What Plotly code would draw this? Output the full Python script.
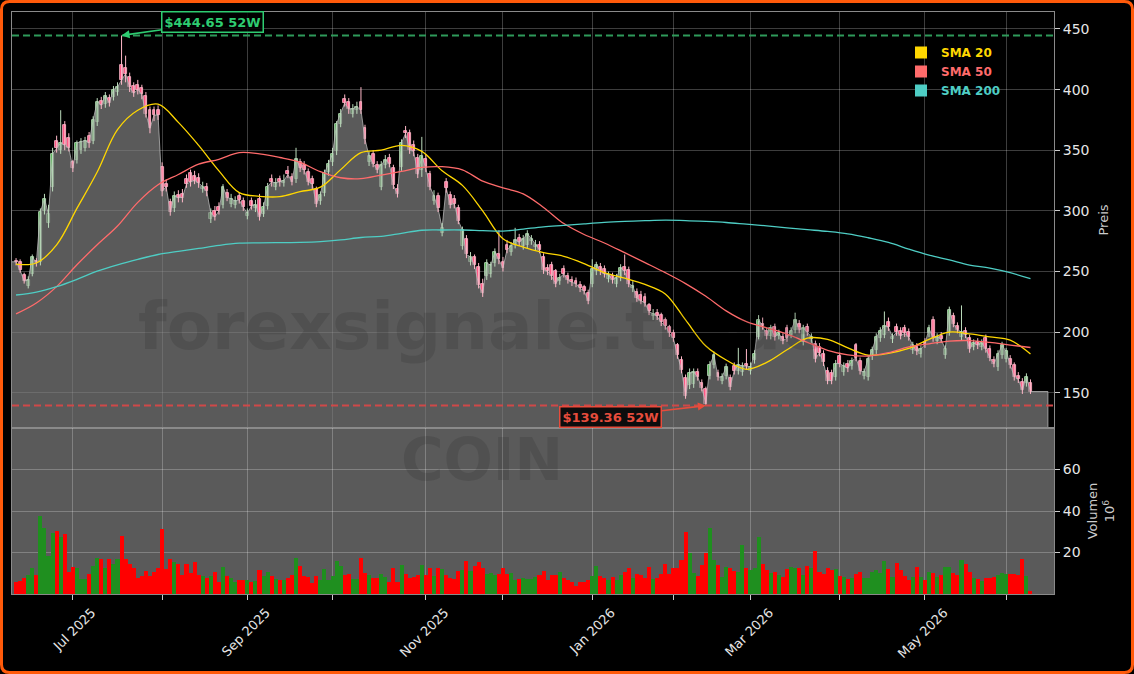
import pandas as pd
import plotly.graph_objects as go

# ---------------- data ----------------
TICKER = "COIN"
START, END = "2025-06-10", "2026-06-09"
HOLIDAYS = ["2025-06-19", "2025-07-04", "2025-09-01", "2025-11-27", "2025-12-25",
            "2026-01-01", "2026-01-19", "2026-02-16", "2026-04-03", "2026-05-25"]

opens = [259,258,247,238,248,259,258,300,290,320,358,350,371,360,340,342,350,352,362,358,
         373,391,388,393,394,398,420,418,410,403,404,401,395,383,383,383,336,322,307,302,
         313,314,326,331,329,327,318,320,293,300,303,305,315,306,305,312,308,296,308,302,
         310,297,304,326,320,326,323,333,328,326,340,338,332,326,318,308,315,332,340,349,
         372,392,390,380,383,390,368,340,347,338,320,338,344,335,318,336,366,364,354,344,
         334,343,330,308,312,282,324,313,310,302,271,277,258,262,254,240,246,248,257,264,
         258,272,266,272,278,271,272,275,270,272,262,253,255,250,242,252,246,243,242,239,
         237,232,240,250,254,252,244,246,240,245,254,251,236,233,231,229,222,213,216,214,
         210,204,199,189,177,162,156,157,167,158,153,164,173,166,160,164,162,172,168,167,
         174,168,177,196,207,201,197,204,197,196,203,198,202,207,192,204,194,190,188,182,
         168,166,163,180,167,174,172,189,176,164,163,180,185,195,198,208,194,204,201,203,
         200,185,188,182,192,199,210,193,197,181,200,213,205,196,201,195,188,192,188,195,
         186,177,171,181,178,178,173,164,159,158,158]
highs = [261,260,249,246,264,261,302,314,305,352,362,383,374,364,342,358,360,361,365,378,
         393,394,398,396,403,406,444.65,428,414,406,408,404,398,386,386,387,340,326,310,316,
         317,318,330,334,333,331,324,323,302,304,307,322,318,314,312,315,311,302,311,309,
         314,307,323,330,327,329,330,337,331,352,343,341,335,329,320,316,334,342,352,374,
         384,396,393,388,390,402,371,349,350,341,341,346,347,338,322,359,370,367,358,347,
         361,347,333,317,315,290,327,316,313,305,287,280,266,264,257,244,260,258,269,284,
         262,276,274,286,281,280,284,280,276,275,265,256,258,252,248,255,249,246,245,242,
         239,235,260,258,257,255,250,249,248,256,264,254,242,236,234,232,224,219,219,216,
         212,206,202,191,180,165,170,170,170,161,155,176,184,169,166,174,165,175,187,175,
         186,175,185,214,212,204,206,207,202,199,206,204,216,210,206,207,199,193,191,185,
         171,169,177,183,175,177,179,191,179,170,181,188,199,204,217,212,199,207,204,206,
         203,192,191,189,195,206,213,199,200,189,221,216,208,222,204,198,194,195,194,198,
         189,180,185,192,187,181,175,167,162,166,161]
lows = [255,249,240,236,246,254,255,297,286,316,348,347,350,349,332,339,347,349,352,355,
        370,384,385,386,391,395,404,406,398,394,396,392,377,364,374,375,312,316,296,299,
        307,307,319,320,322,319,315,312,290,292,297,302,308,303,302,306,300,293,301,299,
        292,295,301,320,317,320,320,327,321,323,332,330,321,318,303,305,312,329,337,346,
        369,386,380,377,380,380,355,337,336,331,317,335,336,318,311,333,360,347,345,327,
        328,332,317,305,299,279,315,302,302,289,268,261,255,252,236,229,243,245,254,256,
        250,265,263,269,271,268,269,272,267,265,248,247,243,237,239,245,240,238,237,233,
        231,223,237,247,247,245,241,240,237,242,247,237,233,225,223,221,214,210,210,205,
        202,196,192,178,166,145,153,154,160,151,139.36,161,170,160,157,161,152,165,165,164,
        169,165,174,194,202,194,194,193,194,190,192,195,199,199,189,197,191,175,180,172,
        157,157,160,171,164,167,169,176,165,161,160,177,182,192,195,201,191,197,194,196,
        193,182,181,179,187,196,192,190,191,178,197,204,199,193,195,183,185,186,185,183,
        176,171,168,178,175,170,160,158,149,155,149]
closes = [258,251,242,243,262,257,299,310,297,347,352,356,354,352,335,356,357,358,356,375,
          390,387,395,389,400,402,408,413,402,397,400,396,380,368,379,379,316,320,299,312,
          311,311,322,324,325,323,320,316,298,295,300,320,311,310,308,309,303,298,304,305,
          295,303,320,324,323,324,325,330,324,343,335,334,324,322,306,313,331,339,347,372,
          380,389,384,384,386,383,359,345,339,334,338,342,339,321,314,356,364,350,349,330,
          345,335,320,312,302,286,319,305,306,292,284,264,262,255,239,232,257,255,266,260,
          253,268,271,276,274,277,281,277,272,268,251,250,246,240,245,248,243,241,240,236,
          234,226,252,255,250,248,247,243,245,253,250,240,238,228,226,224,217,215,213,208,
          205,199,195,181,169,147,166,167,163,154,141,173,181,163,163,171,155,168,173,172,
          172,171,182,210,205,197,203,196,199,193,195,201,210,202,203,200,196,178,183,175,
          160,160,174,174,172,170,176,179,168,167,178,185,196,201,205,204,196,200,197,199,
          196,189,184,186,190,203,195,196,194,186,218,207,202,200,198,186,191,189,191,186,
          179,174,182,189,184,173,163,161,152,163,151]
volume_m = [5.9,6.5,7.5,9.0,12.3,9.1,37.4,31.8,18.2,29.6,30.2,27.5,28.8,10.7,13.1,12.3,7.0,7.3,9.6,13.6,
            17.4,16.8,12.6,16.8,14.7,16.8,27.8,17.1,14.7,12.6,7.8,8.6,11.2,8.9,10.7,12.3,31.2,12.0,17.1,15.5,
            14.4,9.3,14.4,9.9,15.3,9.4,8.6,7.8,8.6,10.4,5.9,12.9,8.6,7.5,5.9,6.7,6.7,6.7,5.6,6.1,
            11.5,8.9,10.5,8.8,7.0,6.7,6.7,7.5,9.1,17.4,13.6,8.6,8.3,5.1,8.6,6.7,12.1,6.7,8.6,15.8,
            13.6,9.1,9.6,7.0,7.0,17.4,10.2,9.4,7.8,7.8,9.6,8.3,5.9,12.5,5.8,14.2,9.6,7.5,8.3,9.1,
            13.9,9.1,12.6,8.8,12.3,12.0,9.1,7.8,7.0,11.0,11.5,16.0,11.2,13.6,15.2,12.6,9.6,9.9,9.1,9.6,
            12.3,9.6,9.9,6.7,7.0,7.5,7.0,7.0,8.3,9.1,11.0,6.7,9.1,9.4,10.7,7.5,6.7,6.0,4.0,5.9,
            5.6,6.7,8.6,13.6,8.8,7.8,6.7,8.3,6.7,9.1,10.7,12.3,7.8,9.6,9.1,7.5,13.1,7.0,7.5,9.6,
            14.4,9.6,12.6,12.6,16.6,29.9,19.8,10.2,8.8,13.9,20.0,32.0,16.6,14.1,8.3,13.1,12.6,11.0,10.7,23.8,
            12.3,11.5,12.3,27.5,14.7,11.5,9.9,10.7,9.4,8.0,12.0,12.8,12.3,12.3,9.1,13.6,12.3,20.6,10.4,9.6,
            12.3,11.8,12.0,8.8,8.3,7.0,7.5,9.6,10.4,7.8,7.5,10.7,11.5,10.2,16.0,12.0,8.3,15.0,11.5,8.8,
            6.7,8.0,13.1,8.3,6.7,10.7,9.9,8.0,9.1,13.1,13.1,9.9,9.1,16.6,14.7,10.7,7.5,7.0,6.2,7.8,
            7.8,8.0,9.1,9.9,9.6,9.6,9.6,9.1,17.1,8.8,1.5]

sma_idx = list(range(0, 251, 5))
sma20 = [256,257,272,302,332,367,383,388,373,354,333,315,312,311.7,315.8,319.5,334,348,350,354,
         349,333,321,300,277,270,265.5,262.5,256.5,249,244.5,239.3,231.5,210,188.5,177,169.3,175,185.4,195,
         194,187,181,182.5,186.5,194,200,198.5,196,193.3,182]
sma50 = [215,224,237.5,255.5,272,287.5,307,321.5,330,338.5,342.5,348,347,344,340,332.3,327.3,326.5,329.5,332.5,
         335.8,336.4,333.8,324.5,319,314,302.8,289.5,280.5,273.5,265.5,257.3,249,240,229.5,217.5,208.6,203.5,198.3,191.6,
         185,181.3,180.3,183,187.8,190.3,192.6,193,191.5,189.3,187.3]
sma200 = [230.6,233,237.5,243.5,250.2,255.5,260,264,266.6,269,271.5,273.3,273.6,273.8,274,274.6,276,278,279,281.5,
          284,284.2,284.2,283.7,283.3,285,286.8,288,289.3,290.5,291.3,291.9,292.3,292,291.3,290.4,289,287.6,286,284.5,
          283,281,277.8,274,268.5,263.5,259.5,255.3,252.8,249,244]

PRICE_TICKS = [150, 200, 250, 300, 350, 400, 450]
VOL_TICKS = [20, 40, 60]

# ---------------- layout constants ----------------
W, H = 1134, 674
ML, MR, MT, MB = 12, 80, 12, 80
PW, PH = W - ML - MR, H - MT - MB
VOL_FRAC = 166 / PH
XR = [-1, 255.8]

def pxx(px):
    return (px - ML) / PW

def pxy(py):
    return (H - MB - py) / PH

dates = pd.bdate_range(START, END, freq="C", holidays=HOLIDAYS)
idx = list(range(len(dates)))
n = len(idx)

s = pd.Series(idx, index=dates)
firsts = s.groupby([dates.year, dates.month]).min()
tickvals, ticktext = [], []
for v in firsts.values:
    if v == 0:
        continue
    d = dates[v]
    tickvals.append(int(v))
    ticktext.append(d.strftime("%b %Y") if d.month % 2 == 1 else "")

up = [c >= o for o, c in zip(opens, closes)]
vol_colors = ["#1f8f1f" if u else "#ff0000" for u in up]

fig = go.Figure()

# close area (gray) incl. extensions to the panel edges
x_end = n - 1 + 4.3
fill_x = [XR[0]] + idx + [x_end, x_end]
fill_y = [closes[0]] + closes + [closes[-1], 0]
fig.add_trace(go.Scatter(x=fill_x, y=fill_y, mode="lines", fill="tozeroy",
                         fillcolor="rgba(128,128,128,0.70)",
                         line=dict(color="rgba(190,190,190,0.75)", width=1),
                         showlegend=False, hoverinfo="skip", xaxis="x", yaxis="y"))

# candle wicks
for flag, col in [(True, "#bcdcbc"), (False, "#ffb8c8")]:
    wx, wy = [], []
    for i in idx:
        if up[i] == flag:
            wx += [i, i, None]
            wy += [lows[i], highs[i], None]
    fig.add_trace(go.Scatter(x=wx, y=wy, mode="lines", line=dict(color=col, width=1),
                             showlegend=False, hoverinfo="skip", xaxis="x", yaxis="y"))

# candle bodies
body_base = [min(o, c) for o, c in zip(opens, closes)]
body_h = [abs(c - o) for o, c in zip(opens, closes)]
fig.add_trace(go.Bar(x=idx, y=body_h, base=body_base, width=0.72,
                     marker=dict(color=["#4fb24f" if u else "#ff4f80" for u in up],
                                 line=dict(color=["#c8e8c8" if u else "#ffc0cf" for u in up], width=0.8)),
                     showlegend=False, hoverinfo="skip", xaxis="x", yaxis="y"))

sma_cfg = [("SMA 20", sma20, "#FFD700"), ("SMA 50", sma50, "#FF6B6B"), ("SMA 200", sma200, "#4ECDC4")]
for name, vals, col in sma_cfg:
    fig.add_trace(go.Scatter(x=sma_idx, y=vals, mode="lines", line=dict(color=col, width=1.3, shape="spline"),
                             showlegend=False, hoverinfo="skip", xaxis="x", yaxis="y"))
for name, vals, col in sma_cfg:
    fig.add_trace(go.Scatter(x=[None], y=[None], mode="markers",
                             marker=dict(symbol="square", size=10, color=col),
                             name=f'<b><span style="color:{col}">{name}</span></b>',
                             xaxis="x", yaxis="y"))

fig.add_trace(go.Bar(x=idx, y=volume_m, marker=dict(color=vol_colors, line=dict(width=0)),
                     width=1.0, showlegend=False, xaxis="x2", yaxis="y2"))

hi_i = max(idx, key=lambda i: highs[i])
lo_i = min(idx, key=lambda i: lows[i])
hi_v, lo_v = highs[hi_i], lows[lo_i]

GRID = "rgba(255,255,255,0.24)"
SPINE = "#8a8a8a"
fig.update_layout(
    width=W, height=H, margin=dict(l=ML, r=MR, t=MT, b=MB),
    paper_bgcolor="black", plot_bgcolor="black",
    font=dict(family="DejaVu Sans", color="#e0e0e0"),
    bargap=0, barmode="overlay",
    xaxis=dict(domain=[0, 1], anchor="y", range=XR, tickvals=tickvals, showticklabels=False,
               ticks="", showgrid=True, gridcolor=GRID, gridwidth=1, zeroline=False,
               showline=True, linecolor=SPINE, linewidth=1, mirror=True),
    yaxis=dict(domain=[VOL_FRAC, 1], anchor="x", side="right", range=[120.9, 464],
               tickvals=PRICE_TICKS, ticks="outside", ticklen=5, tickcolor="#cccccc",
               tickfont=dict(size=14, color="#e6e6e6"), showgrid=True, gridcolor=GRID,
               zeroline=False, showline=True, linecolor=SPINE, linewidth=1, mirror=True,
               title=dict(text="Preis", font=dict(size=13, color="#cccccc"), standoff=10)),
    xaxis2=dict(domain=[0, 1], anchor="y2", range=XR, tickvals=tickvals, ticktext=ticktext,
                tickangle=-45, ticks="outside", ticklen=5, tickcolor="#cccccc",
                ticklabelshift=19,
                tickfont=dict(size=13, color="#e6e6e6"), showgrid=True, gridcolor=GRID,
                zeroline=False, showline=True, linecolor=SPINE, linewidth=1, mirror=True),
    yaxis2=dict(domain=[0, VOL_FRAC], anchor="x2", side="right", range=[0, 80],
                tickvals=VOL_TICKS, ticks="outside", ticklen=5, tickcolor="#cccccc",
                tickfont=dict(size=14, color="#e6e6e6"), showgrid=True, gridcolor=GRID,
                zeroline=False, showline=True, linecolor=SPINE, linewidth=1, mirror=True,
                title=dict(text="Volumen<br>10<sup>6</sup>", font=dict(size=13, color="#cccccc"),
                           standoff=8)),
    legend=dict(x=pxx(901), y=pxy(38), xanchor="left", yanchor="top",
                bgcolor="rgba(0,0,0,0)", borderwidth=0, itemwidth=30,
                font=dict(size=12, family="DejaVu Sans"), itemsizing="constant",
                tracegroupgap=0),
    showlegend=True,
)

# frame / backgrounds / reference lines
r = 8
L0, R0, T0, B0 = 1.5, W - 1.5, 1.5, H - 1.5
pts = [("M", L0 + r, T0), ("L", R0 - r, T0), ("Q", R0, T0, R0, T0 + r), ("L", R0, B0 - r),
       ("Q", R0, B0, R0 - r, B0), ("L", L0 + r, B0), ("Q", L0, B0, L0, B0 - r), ("L", L0, T0 + r),
       ("Q", L0, T0, L0 + r, T0)]
path = ""
for p in pts:
    if p[0] == "Q":
        path += f"Q{pxx(p[1])},{pxy(p[2])} {pxx(p[3])},{pxy(p[4])} "
    else:
        path += f"{p[0]}{pxx(p[1])},{pxy(p[2])} "
path += "Z"

shapes = [
    dict(type="rect", xref="x2 domain", yref="y2 domain", x0=0, x1=1, y0=0, y1=1,
         fillcolor="rgba(128,128,128,0.70)", line=dict(width=0), layer="below"),
    dict(type="line", xref="x domain", yref="y", x0=0, x1=1, y0=hi_v, y1=hi_v,
         line=dict(color="#2e9a5a", width=2, dash="7px,4px"), layer="above"),
    dict(type="line", xref="x domain", yref="y", x0=0, x1=1, y0=lo_v, y1=lo_v,
         line=dict(color="#d04848", width=2, dash="7px,4px"), layer="above"),
    dict(type="path", xref="paper", yref="paper", path=path,
         line=dict(color="#ff5a0a", width=3), fillcolor="rgba(0,0,0,0)", layer="above"),
]
fig.update_layout(shapes=shapes)

annotations = [
    dict(x=pxx(136), y=pxy(326), xref="paper", yref="paper", xanchor="left", yanchor="middle",
         text="<b>forexsignale.trade</b>", showarrow=False,
         font=dict(size=66, color="rgba(0,0,0,0.11)", family="DejaVu Sans")),
    dict(x=pxx(482), y=pxy(460), xref="paper", yref="paper", xanchor="center", yanchor="middle",
         text=f"<b>{TICKER}</b>", showarrow=False,
         font=dict(size=58, color="rgba(0,0,0,0.11)", family="DejaVu Sans")),
    dict(x=hi_i, y=hi_v, xref="x", yref="y", text=f"<b>${hi_v:.2f} 52W</b>",
         showarrow=True, arrowhead=2, arrowsize=1, arrowwidth=1.6, arrowcolor="#2ecc71",
         ax=91, ay=-13, font=dict(color="#2ecc71", size=13, family="DejaVu Sans"),
         bgcolor="rgba(0,0,0,0.85)", bordercolor="#2ecc71", borderwidth=1.5, borderpad=2),
    dict(x=lo_i, y=lo_v, xref="x", yref="y", text=f"<b>${lo_v:.2f} 52W</b>",
         showarrow=True, arrowhead=2, arrowsize=1, arrowwidth=1.6, arrowcolor="#e74c3c",
         ax=-95, ay=11, font=dict(color="#e74c3c", size=13, family="DejaVu Sans"),
         bgcolor="rgba(0,0,0,0.85)", bordercolor="#e74c3c", borderwidth=1.5, borderpad=2),
]
fig.update_layout(annotations=annotations)

fig.write_html("out.html")
